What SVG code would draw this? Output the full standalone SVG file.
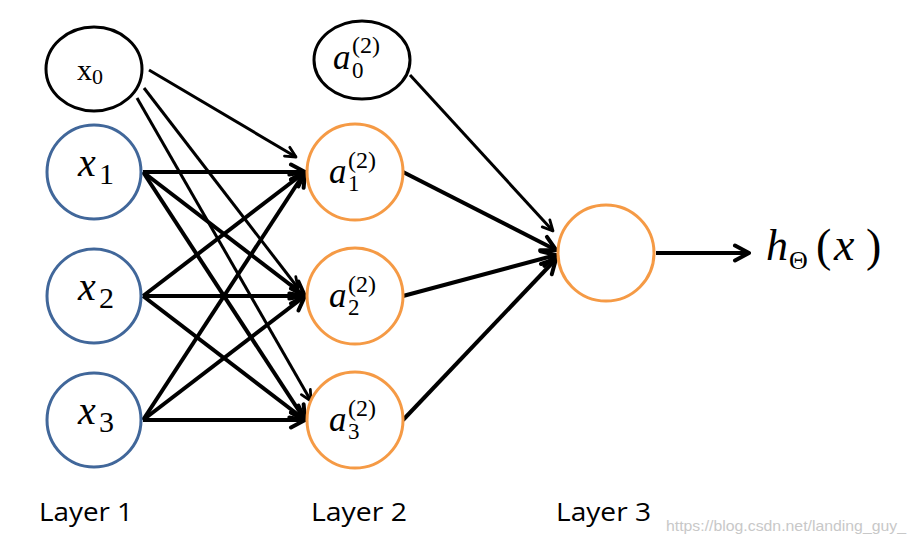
<svg xmlns="http://www.w3.org/2000/svg" width="915" height="544" viewBox="0 0 915 544">
<style>
.bk{fill:#fff;stroke:#000;stroke-width:3}
.bl{fill:#fff;stroke:#41679a;stroke-width:3}
.or{fill:#fff;stroke:#f59a45;stroke-width:3}
.m{font-family:"Liberation Serif","Times New Roman",serif;fill:#000}
.i{font-style:italic}
.thk{stroke:#000;stroke-width:4;fill:none;marker-end:url(#ahk)}
.thn{stroke:#000;stroke-width:3;fill:none;marker-end:url(#ahn)}
.lbl{font-family:"Open Sans","Liberation Sans",sans-serif;font-size:25px;fill:#000}
</style>
<defs>
<marker id="ahk" viewBox="0 0 20 20" refX="18" refY="10" markerWidth="20" markerHeight="20" markerUnits="userSpaceOnUse" orient="auto">
<path d="M4,2.5 L18,10 L4,17.5" fill="none" stroke="#000" stroke-width="4" stroke-linecap="round" stroke-linejoin="round"/>
</marker>
<marker id="ahn" viewBox="0 0 16 16" refX="14" refY="8" markerWidth="15" markerHeight="15" markerUnits="userSpaceOnUse" orient="auto">
<path d="M3,2.5 L14,8 L3,13.5" fill="none" stroke="#000" stroke-width="3" stroke-linecap="round" stroke-linejoin="round"/>
</marker>
</defs>
<g id="connectors">
<line class="thn" x1="149" y1="70" x2="296" y2="157"/>
<line class="thn" x1="144" y1="88" x2="298" y2="288"/>
<line class="thn" x1="137" y1="98" x2="311" y2="401"/>
<line class="thk" x1="143" y1="172" x2="305" y2="172"/>
<line class="thk" x1="143" y1="172" x2="305" y2="296"/>
<line class="thk" x1="143" y1="172" x2="305" y2="420"/>
<line class="thk" x1="143" y1="296" x2="305" y2="172"/>
<line class="thk" x1="143" y1="296" x2="305" y2="296"/>
<line class="thk" x1="143" y1="296" x2="305" y2="420"/>
<line class="thk" x1="143" y1="420" x2="305" y2="172"/>
<line class="thk" x1="143" y1="420" x2="305" y2="296"/>
<line class="thk" x1="143" y1="420" x2="305" y2="420"/>
<line class="thn" x1="410" y1="75" x2="553" y2="231"/>
<line class="thk" x1="403" y1="172" x2="556" y2="250"/>
<line class="thk" x1="403" y1="296" x2="556" y2="255"/>
<line class="thk" x1="403" y1="420" x2="556" y2="259"/>
<line class="thk" x1="656" y1="253" x2="749" y2="253"/>
</g>
<g id="x0">
<ellipse class="bk" cx="94" cy="69" rx="48" ry="42"/>
<text class="m" x="77" y="80" font-size="30">x<tspan font-size="22" dy="4">0</tspan></text>
</g>
<g id="x1">
<circle class="bl" cx="94" cy="172" r="47"/>
<text class="m i" x="78" y="176" font-size="40">x</text>
<text class="m" x="99" y="184" font-size="30">1</text>
</g>
<g id="x2">
<circle class="bl" cx="94" cy="296" r="47"/>
<text class="m i" x="78" y="300" font-size="40">x</text>
<text class="m" x="99" y="308" font-size="30">2</text>
</g>
<g id="x3">
<circle class="bl" cx="94" cy="420" r="47"/>
<text class="m i" x="78" y="424" font-size="40">x</text>
<text class="m" x="99" y="432" font-size="30">3</text>
</g>
<g id="a0">
<ellipse class="bk" cx="362" cy="60" rx="48" ry="39"/>
<text class="m i" x="333" y="69" font-size="35">a</text>
<text class="m" x="352" y="53" font-size="24">(2)</text>
<text class="m" x="352" y="78" font-size="23">0</text>
</g>
<g id="a1">
<circle class="or" cx="355" cy="172" r="48"/>
<text class="m i" x="329" y="183" font-size="35">a</text>
<text class="m" x="348" y="168" font-size="24">(2)</text>
<text class="m" x="348" y="191" font-size="23">1</text>
</g>
<g id="a2">
<circle class="or" cx="355" cy="296" r="48"/>
<text class="m i" x="329" y="307" font-size="35">a</text>
<text class="m" x="348" y="292" font-size="24">(2)</text>
<text class="m" x="348" y="315" font-size="23">2</text>
</g>
<g id="a3">
<circle class="or" cx="355" cy="420" r="48"/>
<text class="m i" x="329" y="431" font-size="35">a</text>
<text class="m" x="348" y="416" font-size="24">(2)</text>
<text class="m" x="348" y="439" font-size="23">3</text>
</g>
<g id="out">
<circle class="or" cx="606" cy="253" r="48"/>
</g>
<g id="output-label">
<text class="m i" x="766" y="260" font-size="44">h</text>
<text class="m" x="789" y="269" font-size="26">Θ</text>
<text class="m" x="816" y="261" font-size="46">(</text>
<text class="m i" x="834" y="260" font-size="46">x</text>
<text class="m" x="866" y="261" font-size="46">)</text>
</g>
<g id="labels">
<text class="lbl" x="39" y="521" textLength="94" lengthAdjust="spacingAndGlyphs">Layer 1</text>
<text class="lbl" x="311" y="521" textLength="96" lengthAdjust="spacingAndGlyphs">Layer 2</text>
<text class="lbl" x="556" y="521" textLength="95" lengthAdjust="spacingAndGlyphs">Layer 3</text>
<text x="666" y="531" font-family="Liberation Sans,sans-serif" font-size="15" fill="#c8c8c8" textLength="240" lengthAdjust="spacingAndGlyphs">https://blog.csdn.net/landing_guy_</text>
</g>
</svg>
